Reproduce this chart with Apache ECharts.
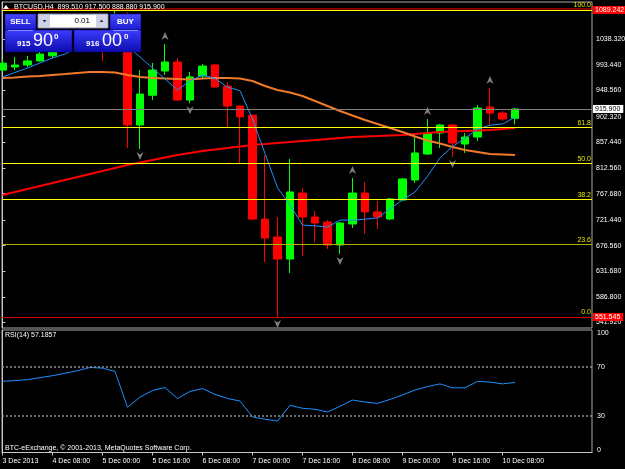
<!DOCTYPE html>
<html>
<head>
<meta charset="utf-8">
<script src="https://cdn.jsdelivr.net/npm/echarts@6.0.0/dist/echarts.min.js"></script>
<style>
html, body { margin: 0; padding: 0; background: #000; }
#chart { width: 625px; height: 469px; }
</style>
</head>
<body>
<div id="chart"></div>
<script>
// BTCUSD H4 bars, 3 Dec 16:00 .. 10 Dec 12:00
var opens  = [984, 989.4, 992.9, 1000, 1009, 1042, 1026, 1037, 1068.7, 1055, 1081, 887.8, 940, 982.4, 998, 931.6, 973.6, 993, 956, 921, 905, 723, 691.6, 653, 768.7, 726.7, 717.9, 677.6, 714.4, 768.7, 735.5, 723.2, 756.5, 791.5, 837, 873.8, 887.8, 854.5, 866.8, 919.4, 908.8, 899.51];
var highs  = [1002, 1006.9, 1008.7, 1016, 1048, 1052, 1045, 1075, 1072, 1089.242, 1085, 984, 996.6, 1029.7, 1005, 980.7, 994.7, 994, 963, 922, 906, 835, 726.7, 828.3, 777.5, 737.2, 721.4, 718, 795, 788, 754.7, 760, 795, 870.3, 898.3, 889.6, 889.6, 873.8, 922.9, 952.6, 912.3, 917.5];
var lows   = [982, 984, 989.4, 999, 1005, 1018, 1020, 1030, 1000, 1050, 847.5, 845.8, 931.6, 975.4, 930, 926, 970, 953, 884, 821, 722, 647.9, 551.545, 628.6, 658.4, 682.9, 670.6, 661.9, 707.4, 696.9, 705.6, 721.4, 754.7, 786.3, 835.3, 847.5, 831.8, 838.8, 859.8, 887.8, 894.8, 888.88];
var closes = [996, 992.9, 1000, 1012, 1042, 1026, 1037, 1068.7, 1055, 1081, 887.8, 942, 984, 998.2, 931.6, 972, 991, 954.4, 921, 902, 723, 689.9, 653, 770.5, 726.7, 716.2, 677.6, 716.2, 768.7, 735.5, 726.7, 758.3, 793.3, 838.8, 873.8, 887.8, 856.3, 866.8, 917.6, 908.8, 898.3, 915.9];

// moving averages
var maFast = [971.9, 979.8, 987.7, 996.4, 1005.2, 1012.2, 1023, 1037, 1045.7, 1053.5, 1026, 1006.9, 987.7, 968.4, 949.1, 965, 975.4, 969.4, 954, 948, 898.3, 838, 777.8, 747.7, 712.6, 711.3, 708.8, 721.4, 721.1, 722.8, 725, 741, 756.5, 770.5, 798.2, 830.4, 850, 864.7, 880.5, 887.5, 889.6, 901.5];
var maMid  = [970.1, 971, 972.7, 973.6, 975.4, 977.1, 978.9, 980.6, 980.6, 979.8, 975.4, 971.9, 970.1, 969.3, 968.4, 967.5, 969.3, 970.1, 970.1, 969.3, 964.9, 956.2, 949.1, 944.7, 938.6, 929.9, 921.1, 912.4, 904.5, 896.6, 889.6, 882.6, 875.6, 867.7, 860.7, 855.4, 849.3, 844, 840.5, 837, 836.1, 835.2];
var maSlow = [765.2, 770.5, 775.7, 781, 786.2, 791.5, 796.7, 802, 807.2, 812.5, 817.7, 822.1, 826.5, 830.9, 835.3, 838.8, 842.3, 844.9, 847.5, 850.2, 852.8, 854.5, 856.3, 858, 859.8, 861.5, 863.3, 865, 866.8, 867.7, 868.5, 869.4, 870.3, 872.1, 873.8, 875.6, 876.4, 877.3, 878.2, 879.1, 880.8, 882.6];

var rsi = [58.1, 58.7, 59.5, 61.1, 62.7, 64.7, 66.8, 69.4, 68.9, 66.2, 36.9, 45.2, 50.6, 53.0, 44.1, 49.8, 52.2, 47.4, 44.1, 42.0, 29.0, 27.2, 25.6, 38.5, 36.1, 35.3, 33.1, 37.7, 42.8, 41.2, 40.1, 43.3, 47.0, 51.0, 53.8, 56.0, 52.8, 52.8, 58.1, 57.5, 56.0, 57.1857];

var fractalUpBars = [13, 28, 34, 39];
var fractalDownBars = [11, 15, 22, 27, 36];

var fibLevels = [0, 23.6, 38.2, 50, 61.8, 100];
var fibPrices = [551.545, 678.44, 756.94, 820.39, 883.84, 1089.242];

var priceTicks = [1038.320, 993.440, 948.560, 902.320, 857.440, 812.560, 767.680, 721.440, 676.560, 631.680, 586.800, 541.920];
var rsiTicks = [100, 70, 30, 0];
var timeTickBars = [0, 4, 8, 12, 16, 20, 24, 28, 32, 36, 40];
var timeLabels = ['3 Dec 2013', '4 Dec 08:00', '5 Dec 00:00', '5 Dec 16:00', '6 Dec 08:00', '7 Dec 00:00', '7 Dec 16:00', '8 Dec 08:00', '9 Dec 00:00', '9 Dec 16:00', '10 Dec 08:00'];

var font = 'Liberation Sans';
var chart = echarts.init(document.getElementById('chart'));

function pairs(arr) {
    return arr.map(function (v, i) { return [i, v]; });
}

var candleData = opens.map(function (o, i) {
    return [i, o, closes[i], lows[i], highs[i]];
});

// fibo levels
var fibColors = ['#dd0000', '#b0b000', '#ffff00', '#ffff00', '#ffff00', '#ffff00'];
var fibLines = fibLevels.map(function (lv, i) {
    var ls = {color: fibColors[i], width: 1, type: 'solid'};
    if (lv === 100) {
        ls.shadowColor = '#ff0000';
        ls.shadowBlur = 0;
        ls.shadowOffsetY = -1.5;
    }
    return {
        yAxis: fibPrices[i],
        lineStyle: ls,
        label: {show: true, position: 'insideEndTop', formatter: lv.toFixed(1),
            color: '#e6e600', fontSize: 7, fontFamily: font, distance: 1}
    };
});
// price boxes on the right scale
function priceBox(v, bg, fg) {
    return {
        yAxis: v,
        lineStyle: {color: 'rgba(0,0,0,0)', width: 0},
        label: {show: true, position: 'end', formatter: v.toFixed(3), backgroundColor: bg,
            color: fg, fontSize: 7, fontFamily: font, padding: [1, 3, 0, 2], distance: 1}
    };
}
var bid = closes[closes.length - 1];
fibLines.push({yAxis: bid, lineStyle: {color: '#808080', width: 1, type: 'solid'}, label: {show: false}});
fibLines.push(priceBox(fibPrices[5], '#ff0000', '#ffffff'));
fibLines.push(priceBox(fibPrices[0], '#ff0000', '#ffffff'));
fibLines.push(priceBox(bid, '#ffffff', '#000000'));

var upArrow = 'path://M4,0 L8,8 L4,5.5 L0,8 Z';
var downArrow = 'path://M0,0 L4,2.5 L8,0 L4,8 Z';

var blueGrad = function (c1, c2) {
    return new echarts.graphic.LinearGradient(0, 0, 0, 1, [{offset: 0, color: c1}, {offset: 1, color: c2}]);
};

var option = {
    backgroundColor: '#000000',
    animation: false,
    grid: [
        {left: 2, top: 2, width: 590, height: 326, show: true, borderColor: '#a8a8a8', borderWidth: 1, outerBoundsMode: 'none'},
        {left: 2, top: 330, width: 590, height: 122.5, show: true, borderColor: '#a8a8a8', borderWidth: 1, outerBoundsMode: 'none'}
    ],
    xAxis: [
        {type: 'value', gridIndex: 0, min: -0.04, max: 47.16, show: false, splitLine: {show: false}},
        {type: 'value', gridIndex: 1, min: -0.04, max: 47.16,
            axisLine: {show: true, lineStyle: {color: '#c8c8c8'}},
            axisTick: {show: true, customValues: timeTickBars, length: 3, lineStyle: {color: '#c8c8c8'}},
            axisLabel: {show: true, customValues: timeTickBars, align: 'left', margin: 5,
                color: '#ffffff', fontSize: 7, fontFamily: font,
                formatter: function (v) { return timeLabels[timeTickBars.indexOf(v)] || ''; }},
            splitLine: {show: false}}
    ],
    yAxis: [
        {type: 'value', gridIndex: 0, position: 'right', min: 532.27, max: 1103.25, scale: true,
            axisLine: {show: true, lineStyle: {color: '#c8c8c8'}},
            axisTick: {show: true, customValues: priceTicks, length: 3, lineStyle: {color: '#c8c8c8'}},
            axisLabel: {show: true, customValues: priceTicks, margin: 4, color: '#ffffff', fontSize: 7, fontFamily: font,
                formatter: function (v) { return v.toFixed(3); }},
            splitLine: {show: false}},
        {type: 'value', gridIndex: 1, position: 'right', min: 0, max: 100,
            axisLine: {show: true, lineStyle: {color: '#c8c8c8'}},
            axisTick: {show: false},
            axisLabel: {show: true, customValues: rsiTicks, margin: 5, color: '#ffffff', fontSize: 7, fontFamily: font,
                formatter: function (v) {
                    if (v === 100) return '{t|' + v + '}';
                    if (v === 0) return '{b|' + v + '}';
                    return String(v);
                },
                rich: {
                    t: {color: '#ffffff', fontSize: 7, fontFamily: font, padding: [7, 0, 0, 0]},
                    b: {color: '#ffffff', fontSize: 7, fontFamily: font, padding: [0, 0, 5, 0]}
                }},
            splitLine: {show: false}}
    ],
    series: [
        {
            name: 'BTCUSD', type: 'candlestick', xAxisIndex: 0, yAxisIndex: 0, z: 2,
            barWidth: 8,
            data: candleData,
            itemStyle: {color: '#00ff00', color0: '#ff0000', borderColor: '#00ff00', borderColor0: '#ff0000', borderWidth: 1}
        },
        {
            name: 'MA slow', type: 'line', xAxisIndex: 0, yAxisIndex: 0, z: 3, showSymbol: false, silent: true,
            data: pairs(maSlow), lineStyle: {color: '#ff0000', width: 2}
        },
        {
            name: 'MA mid', type: 'line', xAxisIndex: 0, yAxisIndex: 0, z: 3, showSymbol: false, silent: true,
            data: pairs(maMid), lineStyle: {color: '#f07a2a', width: 2}
        },
        {
            name: 'MA fast', type: 'line', xAxisIndex: 0, yAxisIndex: 0, z: 3, showSymbol: false, silent: true,
            data: pairs(maFast), lineStyle: {color: '#1e90ff', width: 1}
        },
        {
            name: 'Fractals up', type: 'scatter', xAxisIndex: 0, yAxisIndex: 0, z: 3, silent: true,
            symbol: upArrow, symbolSize: [7, 8], symbolOffset: [0, -8],
            itemStyle: {color: '#a0a0a0'},
            data: fractalUpBars.map(function (k) { return [k, highs[k]]; })
        },
        {
            name: 'Fractals down', type: 'scatter', xAxisIndex: 0, yAxisIndex: 0, z: 3, silent: true,
            symbol: downArrow, symbolSize: [7, 8], symbolOffset: [0, 7],
            itemStyle: {color: '#a0a0a0'},
            data: fractalDownBars.map(function (k) { return [k, lows[k]]; })
        },
        {
            name: 'Fibo', type: 'line', xAxisIndex: 0, yAxisIndex: 0, z: 4, data: [],
            markLine: {silent: true, symbol: 'none', animation: false, data: fibLines}
        },
        {
            name: 'RSI(14)', type: 'line', xAxisIndex: 1, yAxisIndex: 1, z: 3, showSymbol: false, silent: true,
            data: pairs(rsi), lineStyle: {color: '#1e90ff', width: 1},
            markLine: {silent: true, symbol: 'none', animation: false, label: {show: false},
                lineStyle: {color: '#909090', width: 1.5, type: [2, 2]},
                data: [{yAxis: 70}, {yAxis: 30}]}
        }
    ],
    graphic: [
        // header
        {type: 'polygon', z: 100, shape: {points: [[3, 9], [6, 5], [9, 9]]}, style: {fill: '#ffffff'}},
        {type: 'text', z: 100, x: 14, y: 7, style: {text: 'BTCUSD,H4  899.510 917.500 888.880 915.900', fill: '#ffffff',
            font: '7px "' + font + '"', verticalAlign: 'middle'}},
        {type: 'text', z: 100, x: 5, y: 335, style: {text: 'RSI(14) 57.1857', fill: '#ffffff',
            font: '7px "' + font + '"', verticalAlign: 'middle'}},
        {type: 'text', z: 100, x: 5, y: 448, style: {text: 'BTC-eExchange, \u00a9 2001-2013, MetaQuotes Software Corp.', fill: '#ffffff',
            font: '7px "' + font + '"', verticalAlign: 'middle'}},
        // one click trading panel
        {type: 'rect', z: 99, shape: {x: 5, y: 14, width: 136, height: 38}, style: {fill: '#000000'}},
        {type: 'rect', z: 100, shape: {x: 5, y: 14, width: 31, height: 16}, style: {fill: blueGrad('#4a4aff', '#1a1ad0'), stroke: '#00007a', lineWidth: 0.5}},
        {type: 'rect', z: 100, shape: {x: 110, y: 14, width: 31, height: 16}, style: {fill: blueGrad('#4a4aff', '#1a1ad0'), stroke: '#00007a', lineWidth: 0.5}},
        {type: 'rect', z: 100, shape: {x: 38, y: 14, width: 70, height: 14}, style: {fill: '#ffffff', stroke: '#7a7a9a', lineWidth: 1}},
        {type: 'rect', z: 101, shape: {x: 39, y: 15, width: 11, height: 12}, style: {fill: '#cfd3e8'}},
        {type: 'rect', z: 101, shape: {x: 96, y: 15, width: 11, height: 12}, style: {fill: '#cfd3e8'}},
        {type: 'polygon', z: 102, shape: {points: [[42.5, 20], [46.5, 20], [44.5, 22.5]]}, style: {fill: '#303060'}},
        {type: 'polygon', z: 102, shape: {points: [[99.5, 22], [103.5, 22], [101.5, 19.5]]}, style: {fill: '#303060'}},
        {type: 'text', z: 102, x: 90, y: 21, style: {text: '0.01', fill: '#000000', font: '8px "' + font + '"', align: 'right', verticalAlign: 'middle'}},
        {type: 'text', z: 102, x: 20.5, y: 22, style: {text: 'SELL', fill: '#ffffff', font: 'bold 8px "' + font + '"', align: 'center', verticalAlign: 'middle'}},
        {type: 'text', z: 102, x: 125.5, y: 22, style: {text: 'BUY', fill: '#ffffff', font: 'bold 8px "' + font + '"', align: 'center', verticalAlign: 'middle'}},
        {type: 'rect', z: 100, shape: {x: 5, y: 30, width: 67, height: 22}, style: {fill: blueGrad('#3c3cff', '#0c0cae'), stroke: '#00007a', lineWidth: 0.5}},
        {type: 'rect', z: 100, shape: {x: 74, y: 30, width: 67, height: 22}, style: {fill: blueGrad('#3c3cff', '#0c0cae'), stroke: '#00007a', lineWidth: 0.5}},
        {type: 'line', z: 101, shape: {x1: 8, y1: 30.5, x2: 33, y2: 30.5}, style: {stroke: '#8a8aff', lineWidth: 1}},
        {type: 'line', z: 101, shape: {x1: 113, y1: 30.5, x2: 138, y2: 30.5}, style: {stroke: '#8a8aff', lineWidth: 1}},
        {type: 'text', z: 102, x: 17, y: 44, style: {text: '915', fill: '#ffffff', font: 'bold 8px "' + font + '"', verticalAlign: 'middle'}},
        {type: 'text', z: 102, x: 33, y: 41.5, style: {text: '90', fill: '#ffffff', font: '18px "' + font + '"', verticalAlign: 'middle'}},
        {type: 'text', z: 102, x: 54, y: 36.5, style: {text: '0', fill: '#ffffff', font: 'bold 8px "' + font + '"', verticalAlign: 'middle'}},
        {type: 'text', z: 102, x: 86, y: 44, style: {text: '916', fill: '#ffffff', font: 'bold 8px "' + font + '"', verticalAlign: 'middle'}},
        {type: 'text', z: 102, x: 102, y: 41.5, style: {text: '00', fill: '#ffffff', font: '18px "' + font + '"', verticalAlign: 'middle'}},
        {type: 'text', z: 102, x: 124, y: 36.5, style: {text: '0', fill: '#ffffff', font: 'bold 8px "' + font + '"', verticalAlign: 'middle'}}
    ]
};

chart.setOption(option);
</script>
</body>
</html>
